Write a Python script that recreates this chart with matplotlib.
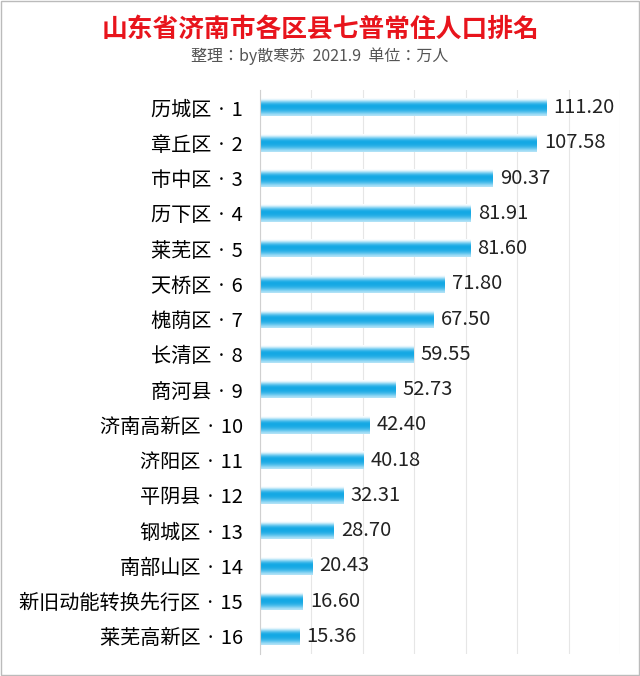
import matplotlib.pyplot as plt
import numpy as np
from matplotlib.patches import Rectangle

plt.rcParams['font.family'] = ['Noto Sans CJK JP', 'Noto Sans CJK SC', 'DejaVu Sans']

districts = ['历城区', '章丘区', '市中区', '历下区', '莱芜区', '天桥区', '槐荫区', '长清区',
             '商河县', '济南高新区', '济阳区', '平阴县', '钢城区', '南部山区',
             '新旧动能转换先行区', '莱芜高新区']
population = [111.20, 107.58, 90.37, 81.91, 81.60, 71.80, 67.50, 59.55,
              52.73, 42.40, 40.18, 32.31, 28.70, 20.43, 16.60, 15.36]

fig = plt.figure(figsize=(6.4, 6.76), dpi=100)
ax = fig.add_axes([0.406, 0.0325, 0.563, 0.8345])

# vertical gradient for the tube-like bars (top to bottom)
grad = np.array([0.0, 0.35, 0.75, 1.0, 1.0, 0.95, 0.8, 0.55, 0.3])[:, None]
cmap = plt.matplotlib.colors.LinearSegmentedColormap.from_list('b', ['#ffffff', '#7fd0f2', '#14a8e4'])
h = 0.5
for i, v in enumerate(population):
    ax.imshow(grad, cmap=cmap, vmin=0, vmax=1, aspect='auto',
              extent=(0, v, i + h / 2, i - h / 2), zorder=2, interpolation='bicubic')
    ax.text(v + 2.8, i, f'{v:.2f}', va='center', ha='left', fontsize=14.5, color='#222222')

ax.set_xlim(0, 140)
ax.set_ylim(len(population) - 0.5, -0.5)
ax.set_yticks(range(len(districts)))
ax.set_yticklabels([f'{d} · {i + 1}' for i, d in enumerate(districts)], fontsize=14.5)
ax.set_xticks(np.arange(0, 141, 20))
ax.xaxis.grid(True, color='#e6e6e6', lw=0.8)
ax.set_axisbelow(True)
ax.tick_params(axis='x', length=0, labelbottom=False)
ax.tick_params(axis='y', length=0, pad=12)
for s in ['top', 'right', 'bottom']:
    ax.spines[s].set_visible(False)
ax.spines['left'].set_color('#d0d0d0')

fig.text(0.5, 0.957, '山东省济南市各区县七普常住人口排名', ha='center', va='center',
         fontsize=18.5, color='#e8141c', fontweight='bold')
fig.text(0.5, 0.917, '整理：by散寒苏  2021.9  单位：万人', ha='center', va='center',
         fontsize=11.5, color='#555555')
fig.patches.append(Rectangle((0.002, 0.002), 0.996, 0.996, transform=fig.transFigure,
                             fill=False, ec='#bbbbbb', lw=1))
fig.savefig('out.png')
